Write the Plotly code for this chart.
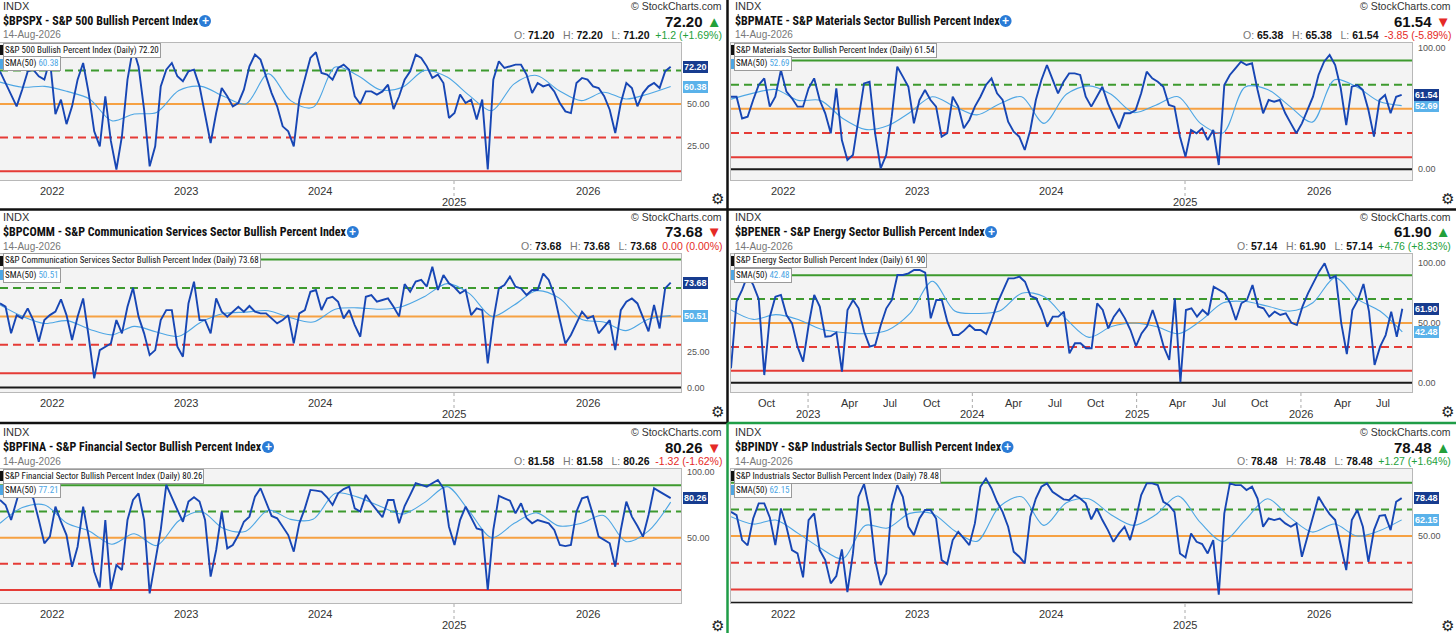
import numpy as np
import plotly.graph_objects as go

# ---------------- data ----------------
symbols = ["$BPSPX", "$BPMATE", "$BPCOMM", "$BPENER", "$BPFINA", "$BPINDY"]
names = ["S&P 500 Bullish Percent Index",
         "S&P Materials Sector Bullish Percent Index",
         "S&P Communication Services Sector Bullish Percent Index",
         "S&P Energy Sector Bullish Percent Index",
         "S&P Financial Sector Bullish Percent Index",
         "S&P Industrials Sector Bullish Percent Index"]
exchange = "INDX"
last_date = "14-Aug-2026"
open_vals = ["71.20", "65.38", "73.68", "57.14", "81.58", "78.48"]
high_vals = ["72.20", "65.38", "73.68", "61.90", "81.58", "78.48"]
low_vals = ["71.20", "61.54", "73.68", "57.14", "80.26", "78.48"]
close_vals = ["72.20", "61.54", "73.68", "61.90", "80.26", "78.48"]
changes = ["+1.2 (+1.69%)", "-3.85 (-5.89%)", "0.00 (0.00%)", "+4.76 (+8.33%)", "-1.32 (-1.62%)", "+1.27 (+1.64%)"]
up_flags = [True, False, False, True, False, True]
sma_last = ["60.38", "52.69", "50.51", "42.48", "77.21", "62.15"]

spx_values = [69.4, 62.5, 54.6, 48.6, 58.5, 69.4, 70.4, 66.5, 64.5, 76.4,
              44, 52.6, 38, 48.6, 64.5, 74.4, 56.5, 33.7, 24.8, 54.6,
              28, 11, 30.8, 64.5, 83.3, 72.4, 46.6, 12.9, 24.8, 60.5,
              70.4, 74.4, 66.5, 63.5, 69.4, 70.4, 60.5, 42.7, 26.8, 44.6,
              59.5, 54.6, 48.6, 50.6, 58.5, 72.4, 79.4, 76.4, 66.5, 56.5,
              48.6, 36.7, 33.7, 24.8, 52.6, 65.5, 77.4, 80.8, 68.5, 67.5,
              64.5, 71.4, 73.4, 70.4, 54.6, 50, 57.5, 57.5, 55.6, 57.5,
              61.5, 47, 54.6, 64.5, 69.4, 79.4, 77.4, 72.4, 65.5, 67.5,
              62.5, 41.7, 44.6, 55.6, 50.6, 52.6, 40.7, 52.6, 11, 64.5,
              75.4, 71.4, 72.4, 73.4, 73.4, 67.5, 56.5, 62.5, 60.5, 61.5,
              57.5, 50.6, 45.6, 44.6, 62.5, 65.5, 64.5, 60.5, 59.5, 54.6,
              46.6, 32.7, 50.6, 62.5, 59.5, 48.6, 56.5, 60.5, 62.5, 59.5,
              69.4, 72.2]
spx_sma = [63, 60, 60.5, 57.5, 53, 40, 44, 45, 58, 60.5, 54.6, 50, 68, 52, 48, 72,
           67, 58.5, 60, 70, 66, 55, 46, 62, 67, 58, 52, 57, 53, 56, 60.38]

mate_values = [60, 60, 42, 43.5, 57.3, 69.7, 75.2, 51.8, 60, 82,
               64.2, 58.7, 51.8, 51.8, 67, 75.2, 57.3, 46.3, 29.8, 67,
               24.2, 7.7, 11.8, 43.5, 71, 72.4, 29.8, 0.8, 11.8, 43.5,
               84.8, 76.6, 68.3, 38, 57.3, 65.6, 57.3, 51.8, 27, 29.8,
               60, 51.8, 33.9, 40.8, 51.8, 60, 69.7, 75.2, 62.8, 57.3,
               39.4, 31.1, 27, 16, 32.5, 57.3, 73.8, 86.2, 73.8, 62.8,
               72.4, 79.3, 79.3, 78, 60, 51.8, 60, 68.3, 54.5, 44.9,
               33.9, 46.3, 46.3, 49, 62.8, 80.7, 75.2, 72.4, 68.3, 53.2,
               51.8, 27, 10.5, 32.5, 29.8, 33.9, 24.2, 32.5, 3.6, 69.7,
               78, 83.5, 89, 86.2, 87.6, 65.6, 46.3, 57.3, 55.9, 57.3,
               46.3, 38, 29.8, 38, 49, 60, 78, 89, 94.5, 86.2,
               67, 36.6, 68.3, 69.7, 65.6, 49, 27, 57.3, 61.4, 46.3,
               60, 61.54]
mate_sma = [58, 63, 66, 57, 57, 42, 33, 36, 47, 60, 52, 45, 54, 60, 38, 62,
            69, 62, 47, 53, 60, 38, 30, 68, 66, 52, 39, 74, 68, 56, 52.69]

comm_values = [59.1, 56.8, 38.1, 50.9, 48.6, 55.6, 47.4, 32.2, 47.4, 50.9,
               53.3, 62, 50.9, 33.4, 49.8, 62.6, 35.7, 6.5, 26.3, 28.7,
               31, 47.4, 38.1, 56.8, 70, 49.8, 38.1, 22.8, 26.3, 47.4,
               54.4, 54.4, 28.7, 21.7, 59.1, 74.4, 47.4, 47.4, 38.1, 62.6,
               53.3, 49.8, 53.3, 56.8, 53.3, 57.3, 53.3, 52.1, 52.1, 48.6,
               45.1, 47.4, 50.9, 31, 52.1, 54.4, 67.3, 68.5, 54.4, 62.6,
               63.8, 60.3, 48.6, 54.4, 43.9, 35.7, 63.8, 65, 60.3, 61.5,
               62.6, 56.8, 50, 72.7, 67.3, 74.4, 75.6, 70.9, 84.8, 68.5,
               79, 73.2, 70.4, 66.2, 68.5, 50.9, 55.6, 54.4, 17, 47.4,
               69.6, 72, 77.9, 70.9, 69.6, 65, 68.5, 68.5, 80.1, 75.6,
               65, 47.4, 31, 36.9, 45.1, 53.3, 48.6, 50.2, 38.1, 42.7,
               47.4, 26.3, 54.4, 60.3, 62.6, 59.1, 49.8, 39.5, 58, 41.5,
               69.6, 73.68]
comm_sma = [58, 50, 45, 47, 41, 37, 43, 39, 36, 46, 52, 53, 54, 49, 46, 55,
            56, 55, 57, 64, 73, 66, 50, 58, 68, 63, 48, 46, 40, 48, 50.51]

ener_values = [12, 68, 77.7, 90, 82, 70, 6.4, 55.3, 72, 73.5,
               56.7, 49.7, 30.2, 17.6, 48.3, 73.5, 63.7, 38.5, 39, 42,
               9.2, 60.9, 69.3, 62.3, 42.7, 30.2, 31.6, 48.3, 62.3, 69.3,
               90.2, 90.2, 91.6, 94.4, 94.4, 92.2, 53.9, 69.3, 69.3, 51.1,
               39.9, 39.9, 43.6, 48.3, 44.1, 44.1, 40.8, 52.5, 66.5, 77.7,
               87.4, 87.4, 88.8, 84.6, 72.6, 70.7, 60.9, 46.9, 55.3, 55.3,
               59.5, 24.6, 33, 33, 28.8, 28.8, 66.5, 60.9, 45.5, 55.3,
               61.5, 53.9, 44.1, 30.7, 41.3, 47.5, 60.9, 46.9, 30.2, 19,
               70.7, 0.5, 60.9, 62.3, 55.3, 60.9, 56.7, 80.4, 77.7, 74.9,
               66.5, 52.5, 66.5, 69.3, 81.8, 63.7, 62.3, 55.3, 59.5, 56.7,
               58.1, 50.3, 48.3, 63.7, 74.9, 83.8, 93, 100, 87.4, 89.4,
               49.7, 24, 60.9, 69.3, 82.7, 59.5, 14.8, 30.2, 39.9, 59.5,
               38.5, 61.9]
ener_sma = [61, 53, 57, 53, 45, 42, 41, 44, 58, 85, 60, 58, 60, 75, 72, 53,
            38, 47, 50, 47, 41, 52, 67, 68, 64, 60, 67, 88, 70, 60, 42.48]

fina_values = [78.8, 75, 63.5, 77.6, 92.9, 83.9, 80.1, 63.5, 45.7, 50.8,
               73.7, 62.2, 52, 27.8, 43.1, 73.7, 50.8, 24, 12, 63.5,
               10.5, 29.1, 25.3, 63.5, 78.8, 83.9, 63.5, 7.4, 30.4, 55.9,
               90.3, 80.1, 71.2, 62.2, 77.6, 80.9, 77.6, 63.5, 20.2, 40.6,
               69.9, 41.8, 44.4, 52, 62.2, 66.1, 81.4, 87.8, 77.6, 66.6,
               64.8, 58.4, 52, 39.3, 61, 72.4, 86.5, 86, 85.2, 80.9,
               75, 83.9, 87.2, 89, 72.4, 69.9, 82.7, 76.3, 70.7, 65.6,
               78.8, 78.8, 61, 74.2, 82.7, 91.6, 90.3, 89, 91.6, 94.1,
               87.8, 58.4, 44.4, 63.5, 73.7, 64.8, 57.1, 55.9, 10, 55.9,
               81.9, 80.1, 78.3, 68.6, 76.3, 64.8, 61, 63.5, 62.2, 61,
               55.9, 44.4, 43.6, 44.4, 69.9, 80.1, 81.4, 67.3, 50.8, 48.2,
               45.7, 27.8, 55.9, 77.6, 66.1, 58.9, 50.8, 67.3, 87.8, 85.2,
               82.7, 80.26]
fina_sma = [61, 73, 75, 61, 55, 45, 53, 44, 63, 70, 57, 55, 71, 64, 64, 84,
            81, 74, 68, 77, 89, 70, 50, 61, 69, 59, 61, 67, 47, 55, 77.21]

indy_values = [68.2, 65.7, 47, 43, 63.2, 74.5, 74.5, 64, 43.2, 70.7,
               57, 39.5, 37, 19, 62, 67, 39.5, 32, 14.5, 20,
               40, 8, 37, 79.5, 89, 69.5, 32, 13.2, 22, 73.2,
               88.2, 79.5, 57, 50.7, 63.2, 69.5, 69.5, 63.2, 32, 29,
               47, 53.2, 48.2, 43.2, 59.5, 87, 93.2, 85.7, 75.7, 68.2,
               57, 38.2, 34.5, 29.5, 64.5, 78.2, 87, 89.5, 83.2, 80,
               77.5, 77, 80.7, 78.2, 74.5, 62.5, 70.7, 62, 54.5, 45.7,
               52, 57, 47, 62, 80.7, 89.5, 89.5, 88.2, 75.7, 73.2,
               68.2, 37, 34, 52, 45.7, 44, 37, 47, 6, 67,
               89.5, 88.2, 88.2, 84.5, 87, 78.2, 57, 63.2, 62, 63.2,
               59.5, 57, 59.5, 34.5, 49.5, 65.7, 79.5, 72.5, 66.5, 62,
               43.2, 24.5, 62, 69.5, 57, 30.7, 54.5, 65.2, 65.7, 54.5,
               75.7, 78.48]
indy_sma = [64.5, 59, 62, 52, 41, 33, 58, 56, 67, 67, 54, 46, 72, 79.5, 58, 75,
            78, 66, 58, 66, 80, 60, 46, 62, 78, 64, 53, 59, 50, 54, 62.15]

# time span (decimal years)
series_start = 2021.612
energy_start = 2022.531
series_end = 2026.617
axis_end = 2026.694
energy_axis_end = 2026.676

year_ticks = [2022, 2023, 2024, 2025, 2026]
year_labels = ["2022", "2023", "2024", "2025", "2026"]
year_low = [False, False, False, True, False]
energy_months = ["Oct", "Apr", "Jul", "Oct", "Apr", "Jul", "Oct", "Apr", "Jul", "Oct", "Apr", "Jul"]
energy_month_x = [2022.75, 2023.25, 2023.5, 2023.75, 2024.25, 2024.5, 2024.75,
                  2025.25, 2025.5, 2025.75, 2026.25, 2026.5]
energy_years = [2023, 2024, 2025, 2026]
levels_all = [90, 70, 50, 30, 10, 0]

# ---------------- styling / geometry ----------------
W, H = 1456, 633


def fx(x):
    return x / W


def fy(y):
    return 1 - y / H


NARROW = "Liberation Sans Narrow, Arial Narrow, Roboto Condensed, sans-serif"
SANS = "Liberation Sans, Arial, sans-serif"
GREEN = "#3d9a2e"
ORANGE = "#f6a142"
RED = "#e53b36"
BLUE = "#1746b4"
SMA_C = "#4da6e4"
NAVY = "#173c8f"
UPC = "#23a03a"
DNC = "#e52a26"

level_styles = {90: (GREEN, "solid"), 70: (GREEN, "8px,5px"), 50: (ORANGE, "solid"),
                30: (RED, "8px,5px"), 10: (RED, "solid"), 0: ("#1a1a1a", "solid")}

row_top = [0, 211, 426]
plot_top = [43, 254, 469]
plot_bot = [180, 392, 603]
gear_y = [199, 411, 625]
plot_l = [0, 731]
plot_r = [681, 1412]
text_l = [1, 733]
text_r = [724, 1453]

panels = [
    dict(values=spx_values, sma=spx_sma, row=0, col=0, yr=[4.76, 86.3], ticks=[25, 50],
         levels=[70, 50, 30, 10], icon=205, energy=False, sma_tag=True),
    dict(values=mate_values, sma=mate_sma, row=0, col=1, yr=[-8.8, 104.4], ticks=[0, 100],
         levels=levels_all, icon=1005.6, energy=False, sma_tag=True),
    dict(values=comm_values, sma=comm_sma, row=1, col=0, yr=[-3.1, 93.8], ticks=[0, 25],
         levels=levels_all, icon=352.8, energy=False, sma_tag=True),
    dict(values=ener_values, sma=ener_sma, row=1, col=1, yr=[-7.8, 107.8], ticks=[0, 50, 100],
         levels=levels_all, icon=991, energy=True, sma_tag=True),
    dict(values=fina_values, sma=fina_sma, row=2, col=0, yr=[0.08, 102.5], ticks=[50, 100],
         levels=[90, 70, 50, 30, 10], icon=268, energy=False, sma_tag=False),
    dict(values=indy_values, sma=indy_sma, row=2, col=1, yr=[-0.2, 100.3], ticks=[50],
         levels=levels_all, icon=1007.5, energy=False, sma_tag=True),
]

fig = go.Figure()
axes = {}
shapes = []
anns = []


def ann(x, y, text, size=11, color="#222", family=SANS, xanchor="left", yanchor="middle",
        xref="paper", yref="paper", **kw):
    anns.append(dict(x=x, y=y, xref=xref, yref=yref, text=text, showarrow=False,
                     xanchor=xanchor, yanchor=yanchor,
                     font=dict(size=size, color=color, family=family), **kw))


for i, p in enumerate(panels):
    r, c = p["row"], p["col"]
    sfx = "" if i == 0 else str(i + 1)
    xa, ya = "x" + sfx, "y" + sfx
    T = row_top[r]
    start = energy_start if p["energy"] else series_start
    xend = energy_axis_end if p["energy"] else axis_end
    axes["xaxis" + sfx] = dict(domain=[fx(plot_l[c]), fx(plot_r[c])], range=[start, xend], anchor=ya,
                               showgrid=False, zeroline=False, showticklabels=False, ticks="",
                               showline=True, mirror=True, linecolor="#b8b8b8", linewidth=1,
                               fixedrange=True)
    axes["yaxis" + sfx] = dict(domain=[fy(plot_bot[r]), fy(plot_top[r])], range=p["yr"], anchor=xa,
                               showgrid=False, zeroline=False, showticklabels=False, ticks="",
                               showline=True, mirror=True, linecolor="#b8b8b8", linewidth=1,
                               fixedrange=True)

    # reference levels
    for lv in p["levels"]:
        colr, dash = level_styles[lv]
        shapes.append(dict(type="line", xref=xa + " domain", x0=0, x1=1, yref=ya, y0=lv, y1=lv,
                           line=dict(color=colr, width=2, dash=dash), layer="below"))

    # series
    xs = np.linspace(start, series_end, len(p["values"]))
    xs_sma = np.linspace(start, series_end, len(p["sma"]))
    fig.add_trace(go.Scatter(x=xs_sma, y=p["sma"], mode="lines", xaxis=xa, yaxis=ya,
                             line=dict(color=SMA_C, width=1.1, shape="spline", smoothing=0.9),
                             hoverinfo="skip", showlegend=False))
    fig.add_trace(go.Scatter(x=xs, y=p["values"], mode="lines", xaxis=xa, yaxis=ya,
                             line=dict(color=BLUE, width=1.9),
                             hoverinfo="skip", showlegend=False))

    # y tick labels
    for t in p["ticks"]:
        ann(fx(plot_r[c] + 4), t, "%.2f" % t, size=9, color="#555", yref=ya)
    # value tags
    if p["sma_tag"]:
        ann(fx(plot_r[c] + 2), float(sma_last[i]), "<b>%s</b>" % sma_last[i], size=9, color="white",
            yref=ya, bgcolor="#5ab2ea", borderwidth=0, borderpad=1)
    ann(fx(plot_r[c] + 2), float(close_vals[i]), "<b>%s</b>" % close_vals[i], size=9, color="white",
        yref=ya, bgcolor=NAVY, borderwidth=0, borderpad=1)

    # x labels
    yb = plot_bot[r]
    if p["energy"]:
        for mx, ml in zip(energy_month_x, energy_months):
            ann(mx, fy(yb + 11), ml, size=11, color="#333", xref=xa, xanchor="center")
        for yv in energy_years:
            ann(yv, fy(yb + 22), str(yv), size=11, color="#333", xref=xa, xanchor="center")
            shapes.append(dict(type="line", xref=xa, x0=yv, x1=yv, yref="paper", y0=fy(yb + 1),
                               y1=fy(yb + 16), line=dict(color="#aaaaaa", width=1, dash="dot")))
    else:
        for yv, yl, low in zip(year_ticks, year_labels, year_low):
            ann(yv, fy(yb + (22 if low else 11)), yl, size=11, color="#333", xref=xa, xanchor="center")
            if low:
                shapes.append(dict(type="line", xref=xa, x0=yv, x1=yv, yref="paper", y0=fy(yb + 1),
                                   y1=fy(yb + 16), line=dict(color="#aaaaaa", width=1, dash="dot")))

    # legend boxes inside plot
    pl = plot_l[c]
    ann(fx(pl + 3), fy(T + 50), "%s (Daily) %s" % (names[i], close_vals[i]), size=9,
        color="#111", family=NARROW, bgcolor="white", bordercolor="#9a9a9a", borderwidth=1, borderpad=1)
    shapes.append(dict(type="rect", xref="paper", yref="paper", x0=fx(pl), x1=fx(pl + 3),
                       y0=fy(T + 55), y1=fy(T + 45), fillcolor="#111", line=dict(width=0)))
    ann(fx(pl + 3), fy(T + 64), "SMA(50) <span style='color:%s'>%s</span>" % (SMA_C, sma_last[i]),
        size=9, color="#111", family=NARROW, bgcolor="white", bordercolor="#9a9a9a", borderwidth=1,
        borderpad=1)
    shapes.append(dict(type="rect", xref="paper", yref="paper", x0=fx(pl), x1=fx(pl + 3),
                       y0=fy(T + 69), y1=fy(T + 59), fillcolor=SMA_C, line=dict(width=0)))

    # header
    tl, tr = text_l[c], text_r[c]
    ann(fx(tl), fy(T + 6), exchange, size=11, color="#333")
    ann(fx(tl), fy(T + 21), "<b>%s - %s</b>" % (symbols[i], names[i]), size=12, color="#111", family=NARROW)
    ann(fx(tl), fy(T + 35), last_date, size=10, color="#777")
    ic = p["icon"]
    shapes.append(dict(type="circle", xref="paper", yref="paper", x0=fx(ic - 6), x1=fx(ic + 6),
                       y0=fy(T + 27), y1=fy(T + 15), fillcolor="#2a7bd6", line=dict(width=0)))
    ann(fx(ic), fy(T + 21), "<b>+</b>", size=12, color="white", xanchor="center")
    ann(fx(tr), fy(T + 6), "© StockCharts.com", size=10.5, color="#333", xanchor="right")
    arrow = "<span style='color:%s'>%s</span>" % ((UPC, "▲") if up_flags[i] else (DNC, "▼"))
    ann(fx(tr), fy(T + 21), "<b>%s</b> %s" % (close_vals[i], arrow), size=15, color="#111", xanchor="right")
    chg_col = UPC if up_flags[i] else DNC
    lab = "<span style='color:#777'>%s</span>"
    ohlc = (lab % "O:") + "&nbsp;<b>%s</b>&nbsp;&nbsp;&nbsp;" % open_vals[i] + \
           (lab % "H:") + "&nbsp;<b>%s</b>&nbsp;&nbsp;&nbsp;" % high_vals[i] + \
           (lab % "L:") + "&nbsp;<b>%s</b>&nbsp;&nbsp;" % low_vals[i] + \
           "<span style='color:%s'>%s</span>" % (chg_col, changes[i])
    ann(fx(tr), fy(T + 35), ohlc, size=10.5, color="#111", xanchor="right")
    # gear
    ann(fx(c * 730 + 717), fy(gear_y[r]), "⚙", size=15, color="#222", xanchor="center")

# panel borders
shapes.append(dict(type="line", xref="paper", yref="paper", x0=fx(727.5), x1=fx(727.5), y0=fy(0), y1=fy(424),
                   line=dict(color="#111", width=2.5)))
shapes.append(dict(type="line", xref="paper", yref="paper", x0=0, x1=1, y0=fy(209.5), y1=fy(209.5),
                   line=dict(color="#111", width=2.5)))
shapes.append(dict(type="line", xref="paper", yref="paper", x0=0, x1=fx(727.5), y0=fy(423), y1=fy(423),
                   line=dict(color="#111", width=2.5)))
shapes.append(dict(type="line", xref="paper", yref="paper", x0=fx(727.5), x1=1, y0=fy(423), y1=fy(423),
                   line=dict(color="#1f9d47", width=2.5)))
shapes.append(dict(type="line", xref="paper", yref="paper", x0=fx(727.5), x1=fx(727.5), y0=fy(423), y1=0,
                   line=dict(color="#1f9d47", width=2.5)))

fig.update_layout(width=W, height=H, margin=dict(l=0, r=0, t=0, b=0), paper_bgcolor="white",
                  plot_bgcolor="#f3f3f3", showlegend=False, shapes=shapes, annotations=anns,
                  font=dict(family=SANS), **axes)
fig.write_html("out.html", config={"displayModeBar": False},
               post_script="document.body.style.margin='0';document.body.style.overflow='hidden';")
